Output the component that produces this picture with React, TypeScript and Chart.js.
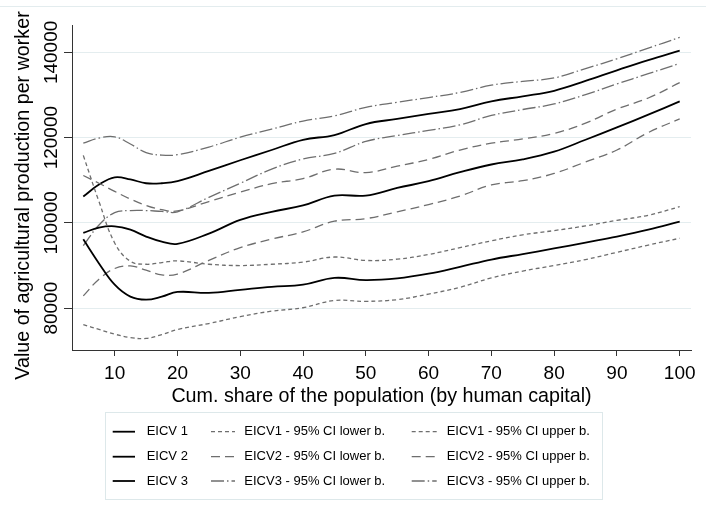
import React, { useEffect, useRef } from "react";
import { Chart, registerables } from "chart.js";

Chart.register(...registerables);

const FONT = "'Liberation Sans', Arial, Helvetica, sans-serif";

// Cumulative share of the population (x)
const xValues = [5, 7.5, 10, 12.5, 15, 17.5, 20, 25, 30, 35, 40, 45, 50, 55, 60, 65, 70, 75, 80, 85, 90, 95, 100];

const eicv1 = [96140, 90500, 85500, 82700, 82000, 82700, 83800, 83600, 84300, 85000, 85500, 87100, 86600, 87000, 88100, 89700, 91400, 92700, 94000, 95400, 96800, 98400, 100300];
const eicv1Lower = [76140, 75000, 73900, 73100, 72900, 73800, 75000, 76400, 78000, 79300, 80100, 81800, 81600, 82000, 83300, 84900, 87100, 88700, 90000, 91400, 93100, 94800, 96400];
const eicv1Upper = [115840, 105000, 95300, 91000, 90300, 90700, 91100, 90300, 90000, 90300, 90800, 92000, 91200, 91500, 92600, 94200, 95800, 97200, 98200, 99300, 100600, 101800, 103800];

const eicv2 = [97650, 98900, 99200, 98400, 96800, 95600, 95100, 97500, 100700, 102600, 104100, 106400, 106400, 108200, 109800, 111900, 113700, 114900, 116700, 119500, 122400, 125400, 128500];
const eicv2Lower = [82890, 86800, 89300, 89900, 88900, 87800, 88000, 91200, 94200, 96200, 97900, 100400, 101000, 102600, 104300, 106300, 108900, 109900, 111600, 114300, 117100, 121200, 124400];
const eicv2Upper = [111130, 109300, 107400, 105600, 104100, 103100, 102800, 105000, 107200, 109200, 110400, 112600, 111800, 113300, 114900, 117100, 118700, 119700, 121000, 123400, 126700, 129300, 132900];

const eicv3 = [106190, 109000, 110700, 110200, 109300, 109300, 109800, 112200, 114700, 117100, 119500, 120600, 123200, 124400, 125600, 126700, 128500, 129700, 131000, 133300, 135800, 138200, 140400];
const eicv3Lower = [94660, 99500, 102400, 102900, 102900, 102700, 102600, 106000, 109300, 112600, 115000, 116300, 119100, 120500, 121700, 123000, 125200, 126600, 127900, 130100, 132600, 135000, 137400];
const eicv3Upper = [118730, 119900, 120200, 118500, 116500, 115900, 116000, 117800, 120100, 122000, 123900, 125100, 127100, 128300, 129400, 130600, 132300, 133200, 134000, 136200, 138500, 141000, 143500];

const xTicks = [10, 20, 30, 40, 50, 60, 70, 80, 90, 100];
const yTicks = [80000, 100000, 120000, 140000];

const seriesLabels = [
  "EICV 1", "EICV1 - 95% CI lower b.", "EICV1 - 95% CI upper b.",
  "EICV 2", "EICV2 - 95% CI lower b.", "EICV2 - 95% CI upper b.",
  "EICV 3", "EICV3 - 95% CI lower b.", "EICV3 - 95% CI upper b.",
];
const seriesValues = [eicv1, eicv1Lower, eicv1Upper, eicv2, eicv2Lower, eicv2Upper, eicv3, eicv3Lower, eicv3Upper];

const SOLID = { color: "#000000", width: 1.8, dash: [] as number[] };
const CI1 = { color: "#6e6e6e", width: 1.3, dash: [4, 3] };
const CI2 = { color: "#6e6e6e", width: 1.3, dash: [9, 5] };
const CI3 = { color: "#6e6e6e", width: 1.3, dash: [13, 3, 1.5, 3] };
const seriesStyles = [SOLID, CI1, CI1, SOLID, CI2, CI2, SOLID, CI3, CI3];

const overlayPlugin = {
  id: "stataOverlay",
  afterDraw(chart: any) {
    const ctx = chart.ctx as CanvasRenderingContext2D;
    const yScale = chart.scales.y;
    ctx.save();

    // outer frame line at the top
    ctx.strokeStyle = "#e3ecee";
    ctx.lineWidth = 1;
    ctx.beginPath();
    ctx.moveTo(0, 6.5);
    ctx.lineTo(chart.width, 6.5);
    ctx.stroke();

    // rotated y tick labels
    ctx.fillStyle = "#000";
    ctx.font = `19px ${FONT}`;
    ctx.textAlign = "center";
    ctx.textBaseline = "middle";
    for (const v of yTicks) {
      const py = yScale.getPixelForValue(v);
      ctx.save();
      ctx.translate(51.5, py);
      ctx.rotate(-Math.PI / 2);
      ctx.fillText(String(v), 0, 0);
      ctx.restore();
    }

    // y axis title
    ctx.save();
    ctx.font = `19.7px ${FONT}`;
    ctx.translate(23.5, 195.5);
    ctx.rotate(-Math.PI / 2);
    ctx.fillText("Value of agricultural production per worker", 0, 0);
    ctx.restore();

    // legend box
    ctx.fillStyle = "#fff";
    ctx.fillRect(105.5, 412.5, 497, 87);
    ctx.strokeStyle = "#dde8ea";
    ctx.lineWidth = 1;
    ctx.strokeRect(105.5, 412.5, 497, 87);

    const rowsY = [431.7, 456.7, 481];
    const samples = [[112.7, 135], [211, 235], [411.7, 436.7]];
    const textX = [146.7, 244.3, 446.7];
    ctx.font = `13px ${FONT}`;
    ctx.textAlign = "left";
    ctx.textBaseline = "middle";
    chart.data.datasets.forEach((ds: any, i: number) => {
      const row = Math.floor(i / 3);
      const col = i % 3;
      const y = rowsY[row];
      ctx.save();
      ctx.strokeStyle = ds.borderColor;
      ctx.lineWidth = ds.borderWidth;
      ctx.setLineDash(ds.borderDash || []);
      ctx.beginPath();
      ctx.moveTo(samples[col][0], y);
      ctx.lineTo(samples[col][1], y);
      ctx.stroke();
      ctx.restore();
      ctx.fillStyle = "#000";
      ctx.fillText(ds.label, textX[col], y);
    });

    ctx.restore();
  },
};

export default function App() {
  const canvasRef = useRef<HTMLCanvasElement | null>(null);

  useEffect(() => {
    if (!canvasRef.current) return;
    const datasets = seriesValues.map((vals, i) => ({
      label: seriesLabels[i],
      data: xValues.map((x, j) => ({ x, y: vals[j] })),
      borderColor: seriesStyles[i].color,
      borderWidth: seriesStyles[i].width,
      borderDash: seriesStyles[i].dash,
      pointRadius: 0,
      fill: false,
      tension: 0.4,
    }));

    const chart = new Chart(canvasRef.current, {
      type: "line",
      data: { datasets },
      options: {
        animation: false,
        responsive: false,
        devicePixelRatio: 1,
        layout: { padding: { top: 25, right: 15, bottom: 110, left: 0 } },
        plugins: {
          legend: { display: false },
          tooltip: { enabled: false },
        },
        scales: {
          x: {
            type: "linear",
            min: 3.2,
            max: 101.8,
            afterBuildTicks: (s: any) => {
              s.ticks = xTicks.map((v) => ({ value: v }));
            },
            afterFit: (s: any) => {
              s.height = 58;
            },
            grid: { drawOnChartArea: false, tickLength: 6, tickColor: "#333", tickWidth: 1 },
            border: { color: "#333", width: 1 },
            ticks: {
              font: { size: 19, family: FONT },
              color: "#000",
              padding: 6,
              maxRotation: 0,
              autoSkip: false,
              callback: (v: any) => String(v),
            },
            title: {
              display: true,
              text: "Cum. share of the population (by human capital)",
              font: { size: 19.7, family: FONT },
              color: "#000",
              padding: { top: 0, bottom: 0 },
            },
          },
          y: {
            type: "linear",
            min: 70188,
            max: 146424,
            afterBuildTicks: (s: any) => {
              s.ticks = yTicks.map((v) => ({ value: v }));
            },
            afterFit: (s: any) => {
              s.width = 72;
            },
            ticks: { display: false },
            grid: { color: "#e4edef", tickColor: "#333", tickLength: 8, lineWidth: 1 },
            border: { color: "#333", width: 1 },
          },
        },
      },
      plugins: [overlayPlugin],
    });
    return () => chart.destroy();
  }, []);

  return (
    <div style={{ position: "fixed", left: 0, top: 0, width: 706, height: 518, background: "#fff" }}>
      <canvas ref={canvasRef} width={706} height={518} style={{ display: "block" }} />
    </div>
  );
}
